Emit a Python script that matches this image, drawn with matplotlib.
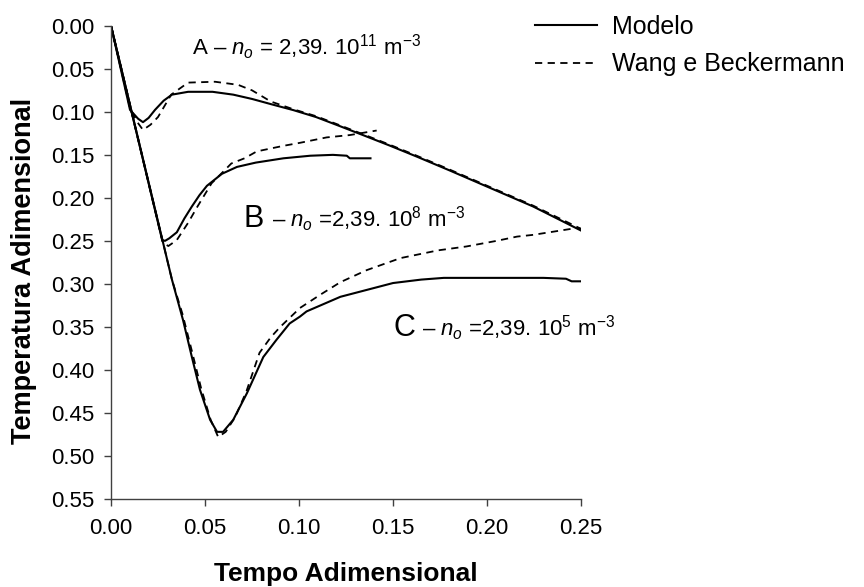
import matplotlib
matplotlib.use("Agg")
import matplotlib.pyplot as plt

plt.rcParams['font.family'] = ['Liberation Sans', 'DejaVu Sans']
plt.rcParams['mathtext.fontset'] = 'custom'
plt.rcParams['mathtext.rm'] = 'Liberation Sans'
plt.rcParams['mathtext.it'] = 'Liberation Sans:italic'
plt.rcParams['mathtext.bf'] = 'Liberation Sans:bold'

# ---- data (x = tempo, y = temperatura) ----
# curve A
a_mod_x = [0.0, 0.0101, 0.0144, 0.017, 0.020, 0.0234, 0.028, 0.0324, 0.041, 0.054,
           0.065, 0.075, 0.085, 0.097, 0.109, 0.121, 0.134, 0.148, 0.1626, 0.180,
           0.198, 0.2245, 0.25]
a_mod_y = [0.0, 0.0977, 0.108, 0.112, 0.107, 0.0977, 0.087, 0.080, 0.0767, 0.0767,
           0.080, 0.085, 0.091, 0.098, 0.106, 0.116, 0.127, 0.139, 0.152, 0.168,
           0.185, 0.210, 0.238]
a_wb_x = [0.0, 0.010, 0.014, 0.017, 0.021, 0.025, 0.032, 0.041, 0.0553, 0.0676,
          0.075, 0.085, 0.097, 0.109, 0.121, 0.134, 0.148, 0.1626, 0.180, 0.198,
          0.2245, 0.25]
a_wb_y = [0.0, 0.095, 0.112, 0.121, 0.115, 0.106, 0.080, 0.066, 0.065, 0.0686,
          0.075, 0.088, 0.097, 0.105, 0.115, 0.126, 0.138, 0.151, 0.167, 0.184,
          0.209, 0.236]

# curve B
b_mod_x = [0.0, 0.0272, 0.0287, 0.031, 0.035, 0.039, 0.043, 0.047, 0.051, 0.059,
           0.067, 0.077, 0.0917, 0.106, 0.118, 0.1254, 0.127, 0.138]
b_mod_y = [0.0, 0.249, 0.250, 0.247, 0.240, 0.224, 0.210, 0.197, 0.186, 0.172,
           0.164, 0.159, 0.154, 0.151, 0.150, 0.151, 0.154, 0.154]
b_wb_x = [0.0, 0.0275, 0.0305, 0.035, 0.041, 0.046, 0.0535, 0.059, 0.064, 0.071,
          0.0775, 0.0917, 0.1005, 0.1147, 0.127, 0.1413]
b_wb_y = [0.0, 0.252, 0.256, 0.249, 0.229, 0.210, 0.183, 0.171, 0.160, 0.154,
          0.146, 0.1395, 0.136, 0.1297, 0.127, 0.1217]

# curve C
c_mod_x = [0.0, 0.0324, 0.0383, 0.043, 0.0473, 0.0527, 0.0564, 0.0596, 0.065, 0.0723,
           0.081, 0.088, 0.095, 0.1005, 0.104, 0.122, 0.136, 0.150, 0.165, 0.177,
           0.200, 0.230, 0.242, 0.245, 0.25]
c_mod_y = [0.0, 0.295, 0.342, 0.385, 0.423, 0.458, 0.472, 0.472, 0.458, 0.427,
           0.385, 0.365, 0.346, 0.338, 0.332, 0.315, 0.307, 0.299, 0.295, 0.293,
           0.293, 0.293, 0.294, 0.297, 0.297]
c_wb_x = [0.0, 0.0324, 0.038, 0.043, 0.048, 0.053, 0.057, 0.061, 0.066, 0.072,
          0.079, 0.085, 0.090, 0.1005, 0.111, 0.122, 0.136, 0.154, 0.174, 0.189,
          0.205, 0.216, 0.2245, 0.2477, 0.25]
c_wb_y = [0.0, 0.295, 0.335, 0.378, 0.422, 0.458, 0.478, 0.472, 0.455, 0.425,
          0.380, 0.362, 0.350, 0.328, 0.313, 0.298, 0.284, 0.270, 0.261, 0.2565,
          0.250, 0.245, 0.243, 0.235, 0.236]

x_ticks = [0.00, 0.05, 0.10, 0.15, 0.20, 0.25]
y_ticks = [0.00, 0.05, 0.10, 0.15, 0.20, 0.25, 0.30, 0.35, 0.40, 0.45, 0.50, 0.55]

fig = plt.figure(figsize=(8.64, 5.87), dpi=100)
ax = fig.add_axes([0.1285, 0.150, 0.544, 0.806])

solid = dict(color='black', lw=1.5)
dash = dict(color='black', lw=1.3, linestyle=(0, (4, 3)))

ax.plot(a_mod_x, a_mod_y, label='Modelo', **solid)
ax.plot(a_wb_x, a_wb_y, label='Wang e Beckermann', **dash)
ax.plot(b_mod_x, b_mod_y, **solid)
ax.plot(b_wb_x, b_wb_y, **dash)
ax.plot(c_mod_x, c_mod_y, **solid)
ax.plot(c_wb_x, c_wb_y, **dash)

ax.set_xlim(0, 0.25)
ax.set_ylim(0.55, 0.0)
ax.set_xticks(x_ticks)
ax.set_yticks(y_ticks)
ax.set_xticklabels(['%.2f' % v for v in x_ticks])
ax.set_yticklabels(['%.2f' % v for v in y_ticks])

for s in ['top', 'right']:
    ax.spines[s].set_visible(False)
for s in ['left', 'bottom']:
    ax.spines[s].set_color('#404040')
    ax.spines[s].set_linewidth(1.0)
ax.tick_params(axis='both', direction='out', length=5, width=1, color='#404040', labelsize=16)
ax.tick_params(axis='y', pad=7)
ax.tick_params(axis='x', pad=9)

ax.set_xlabel('Tempo Adimensional', fontsize=19, fontweight='bold')
ax.set_ylabel('Temperatura Adimensional', fontsize=19.5, fontweight='bold')
ax.xaxis.set_label_coords(0.5, -0.133)
ax.yaxis.set_label_coords(-0.157, 0.481)

# annotations
ax.text(0.0431, 0.0337, r'A – $n_o$ = 2,39. 10$^{11}$ m$^{-3}$', fontsize=16, va='baseline')
ax.text(0.0702, 0.2333, 'B', fontsize=22, va='baseline')
ax.text(0.0856, 0.2333, r'– $n_o$ =2,39. 10$^{8}$ m$^{-3}$', fontsize=16, va='baseline')
ax.text(0.150, 0.3605, 'C', fontsize=22, va='baseline')
ax.text(0.1654, 0.3605, r'– $n_o$ =2,39. 10$^{5}$ m$^{-3}$', fontsize=16, va='baseline')

fig.legend(loc='upper left', bbox_to_anchor=(0.619, 0.975), frameon=False, fontsize=18,
           handlelength=2.5, handletextpad=0.6, labelspacing=0.55, borderpad=0, borderaxespad=0)

fig.savefig('out.png', dpi=100)
